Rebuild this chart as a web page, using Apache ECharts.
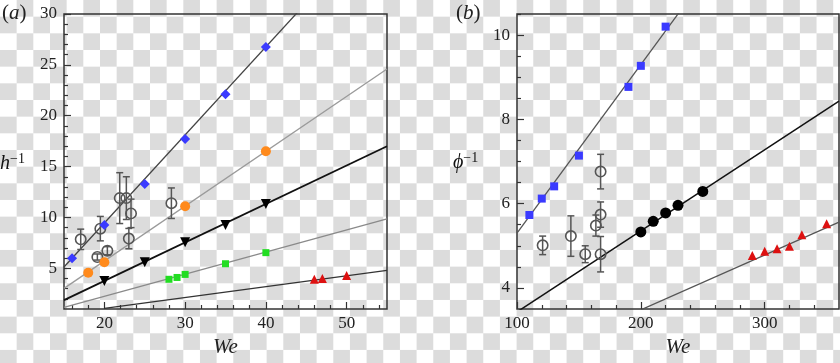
<!DOCTYPE html>
<html><head><meta charset="utf-8">
<script src="https://cdn.jsdelivr.net/npm/echarts@6/dist/echarts.min.js"></script>
<style>
html,body{margin:0;padding:0;}
body{width:840px;height:363px;background-color:#fff;background-image:conic-gradient(#dcdcdc 0 25%, #fff 0 50%, #dcdcdc 0 75%, #fff 0);background-size:33.333px 33.333px;}
#c{width:840px;height:363px;}
</style></head><body><div id="c"></div>
<script>
// ---------- Panel (a): h^-1 vs We ----------
const aXTicks = [20, 30, 40, 50];
const aXMinor = [16, 18, 22, 24, 26, 28, 32, 34, 36, 38, 42, 44, 46, 48, 52, 54];
const aYTicks = [5, 10, 15, 20, 25, 30];
const aYMinor = [2, 3, 4, 6, 7, 8, 9, 11, 12, 13, 14, 16, 17, 18, 19, 21, 22, 23, 24, 26, 27, 28, 29];

const aBlueX = [16, 20, 25, 30, 35, 40];
const aBlueY = [6.0, 9.25, 13.3, 17.7, 22.1, 26.75];
const aOrangeX = [18, 20, 30, 40];
const aOrangeY = [4.57, 5.6, 11.1, 16.5];
const aBlackX = [20, 25, 30, 35, 40];
const aBlackY = [3.75, 5.6, 7.55, 9.25, 11.33];
const aGreenX = [28, 29, 30, 35, 40];
const aGreenY = [3.92, 4.1, 4.4, 5.45, 6.54];
const aRedX = [46, 47, 50];
const aRedY = [3.92, 4.0, 4.3];
const aOpenX = [17.07, 19.13, 19.5, 20.37, 21.9, 22.72, 23.3, 23.03, 28.3];
const aOpenY = [7.85, 6.11, 8.9, 6.73, 11.9, 11.9, 10.4, 7.92, 11.4];
const aOpenErr = [1.0, 0.3, 1.2, 0.4, 2.5, 2.1, 1.4, 1.0, 1.5];

const aFitBlueX = [15, 45], aFitBlueY = [5.13, 31.1];
const aFitOrangeX = [15, 55], aFitOrangeY = [3.03, 24.6];
const aFitBlackX = [15, 55], aFitBlackY = [1.87, 17.0];
const aFitGreenX = [15, 55], aFitGreenY = [1.15, 9.85];
const aFitRedX = [20, 55], aFitRedY = [1.07, 4.8];

// ---------- Panel (b): phi^-1 vs We ----------
const bXTicks = [100, 200, 300];
const bXMinor = [120, 140, 160, 180, 220, 240, 260, 280, 320, 340];
const bYTicks = [4, 6, 8, 10];
const bYMinor = [4.5, 5, 5.5, 6.5, 7, 7.5, 8.5, 9, 9.5, 10.5];

const bBlueX = [110, 120, 130, 150, 190, 200, 220];
const bBlueY = [5.73, 6.12, 6.41, 7.14, 8.77, 9.27, 10.2];
const bBlackX = [200, 210, 220, 230, 250];
const bBlackY = [5.33, 5.58, 5.78, 5.96, 6.29];
const bRedX = [290, 300, 310, 320, 330, 350];
const bRedY = [4.77, 4.87, 4.93, 4.99, 5.26, 5.52];
const bOpenX = [120.7, 143.5, 155.1, 163.7, 167.5, 167.5, 167.5];
const bOpenY = [5.01, 5.23, 4.8, 5.48, 5.74, 6.76, 4.8];
const bOpenErr = [0.22, 0.48, 0.2, 0.25, 0.3, 0.41, 0.42];

const bFitBlueX = [100, 235], bFitBlueY = [5.3, 10.7];
const bFitBlackX = [100, 360], bFitBlackY = [3.43, 8.43];
const bFitRedX = [200, 360], bFitRedY = [3.48, 5.56];

// ---------- helpers ----------
const zip = (xs, ys) => xs.map((x, i) => [x, ys[i]]);
const zip3 = (xs, ys, es) => xs.map((x, i) => [x, ys[i], es[i]]);
const SERIF = "'Liberation Serif', 'Times New Roman', 'DejaVu Serif', serif";
const AX = '#333';
const tickFont = { fontFamily: SERIF, fontSize: 17, fontWeight: 'normal', color: '#222' };

function majorX(grid, min, max, ticks) {
  return { type: 'value', gridIndex: grid, min, max, position: 'bottom',
    name: 'We', nameLocation: 'middle', nameGap: 27,
    nameTextStyle: { fontFamily: SERIF, fontStyle: 'italic', fontSize: 21, color: '#222' },
    axisLine: { show: false, onZero: false },
    axisTick: { show: true, inside: true, length: 7, customValues: ticks, lineStyle: { color: AX, width: 1.2 } },
    axisLabel: Object.assign({ show: true, customValues: ticks, margin: 6,
      rich: { t: tickFont }, formatter: v => '{t|' + v + '}' }, tickFont),
    splitLine: { show: false } };
}
function minorX(grid, min, max, ticks) {
  return { type: 'value', gridIndex: grid, min, max, position: 'bottom',
    axisLine: { show: false, onZero: false },
    axisTick: { show: true, inside: true, length: 4, customValues: ticks, lineStyle: { color: AX, width: 1.2 } },
    axisLabel: { show: false }, splitLine: { show: false } };
}
function majorY(grid, min, max, ticks) {
  return { type: 'value', gridIndex: grid, min, max, position: 'left',
    axisLine: { show: false, onZero: false },
    axisTick: { show: true, inside: true, length: 7, customValues: ticks, lineStyle: { color: AX, width: 1.2 } },
    axisLabel: Object.assign({ show: true, customValues: ticks, margin: 7,
      rich: { t: tickFont }, formatter: v => '{t|' + v + '}' }, tickFont),
    splitLine: { show: false } };
}
function minorY(grid, min, max, ticks) {
  return { type: 'value', gridIndex: grid, min, max, position: 'left',
    axisLine: { show: false, onZero: false },
    axisTick: { show: true, inside: true, length: 4, customValues: ticks, lineStyle: { color: AX, width: 1.2 } },
    axisLabel: { show: false }, splitLine: { show: false } };
}
function fit(xi, xs, ys, color, width) {
  return { type: 'line', xAxisIndex: xi, yAxisIndex: xi, data: zip(xs, ys), symbol: 'none',
    clip: true, silent: true, z: 2, lineStyle: { color, width }, animation: false };
}
function pts(xi, xs, ys, symbol, size, color, rotate) {
  return { type: 'scatter', xAxisIndex: xi, yAxisIndex: xi, data: zip(xs, ys), symbol,
    symbolSize: size, symbolRotate: rotate || 0, z: 4, itemStyle: { color, opacity: 1 }, animation: false };
}
function errRender(params, api) {
  const x = api.value(0), y = api.value(1), e = api.value(2);
  const p = api.coord([x, y]), hi = api.coord([x, y + e]), lo = api.coord([x, y - e]);
  const cap = 3.5;
  const st = { stroke: '#555', lineWidth: 1.5, fill: null };
  return { type: 'group', children: [
    { type: 'line', shape: { x1: p[0], y1: hi[1], x2: p[0], y2: lo[1] }, style: st },
    { type: 'line', shape: { x1: p[0] - cap, y1: hi[1], x2: p[0] + cap, y2: hi[1] }, style: st },
    { type: 'line', shape: { x1: p[0] - cap, y1: lo[1], x2: p[0] + cap, y2: lo[1] }, style: st },
    { type: 'circle', shape: { cx: p[0], cy: p[1], r: 5.2 }, style: { stroke: '#555', lineWidth: 1.6, fill: 'rgba(0,0,0,0)' } }
  ] };
}
function errs(xi, xs, ys, es) {
  return { type: 'custom', xAxisIndex: xi, yAxisIndex: xi, data: zip3(xs, ys, es),
    renderItem: errRender, z: 3, animation: false, clip: true };
}

const chart = echarts.init(document.getElementById('c'), null, { renderer: 'canvas' });
const titleRich = {
  i: { fontFamily: SERIF, fontStyle: 'italic', fontWeight: 'normal', fontSize: 21, color: '#222' },
  n: { fontFamily: SERIF, fontWeight: 'normal', fontSize: 21, color: '#222' },
  h: { fontFamily: SERIF, fontStyle: 'italic', fontWeight: 'normal', fontSize: 20, lineHeight: 22, verticalAlign: 'bottom', color: '#111' },
  s: { fontFamily: SERIF, fontWeight: 'normal', fontSize: 14, lineHeight: 12, verticalAlign: 'top', color: '#111' }
};
chart.setOption({
  backgroundColor: 'transparent',
  animation: false,
  textStyle: { fontFamily: SERIF },
  title: [
    { text: '{n|(}{i|a}{n|)}', left: -3, top: -2, textStyle: { fontWeight: 'normal', rich: titleRich } },
    { text: '{n|(}{i|b}{n|)}', left: 451, top: -2, textStyle: { fontWeight: 'normal', rich: titleRich } },
    { text: '{h|h}{s|−1}', left: -5, top: 147, textStyle: { fontWeight: 'normal', rich: titleRich } },
    { text: '{h|ϕ}{s|−1}', left: 448, top: 146, textStyle: { fontWeight: 'normal', rich: titleRich } }
  ],
  grid: [
    { left: 64, top: 14, width: 323, height: 295, show: true, borderColor: AX, borderWidth: 1.5, backgroundColor: 'transparent' },
    { left: 517, top: 14, width: 322, height: 295, show: true, borderColor: AX, borderWidth: 1.5, backgroundColor: 'transparent' }
  ],
  xAxis: [
    majorX(0, 15, 55, aXTicks), minorX(0, 15, 55, aXMinor),
    majorX(1, 100, 360, bXTicks), minorX(1, 100, 360, bXMinor)
  ],
  yAxis: [
    majorY(0, 1, 30, aYTicks), minorY(0, 1, 30, aYMinor),
    majorY(1, 3.5, 10.5, bYTicks), minorY(1, 3.5, 10.5, bYMinor)
  ],
  series: [
    fit(0, aFitBlueX, aFitBlueY, '#444', 1.3),
    fit(0, aFitOrangeX, aFitOrangeY, '#9a9a9a', 1.3),
    fit(0, aFitBlackX, aFitBlackY, '#111', 1.8),
    fit(0, aFitGreenX, aFitGreenY, '#8a8a8a', 1.3),
    fit(0, aFitRedX, aFitRedY, '#333', 1.3),
    errs(0, aOpenX, aOpenY, aOpenErr),
    pts(0, aBlueX, aBlueY, 'diamond', 10, '#3a3aff'),
    pts(0, aOrangeX, aOrangeY, 'circle', 10, '#ff8a1c'),
    pts(0, aBlackX, aBlackY, 'triangle', 10, '#000', 180),
    pts(0, aGreenX, aGreenY, 'rect', 7, '#22dd22'),
    pts(0, aRedX, aRedY, 'triangle', 9, '#dd1111'),

    fit(2, bFitBlueX, bFitBlueY, '#555', 1.3),
    fit(2, bFitBlackX, bFitBlackY, '#111', 1.5),
    fit(2, bFitRedX, bFitRedY, '#555', 1.3),
    errs(2, bOpenX, bOpenY, bOpenErr),
    pts(2, bBlueX, bBlueY, 'rect', 8, '#3a3aff'),
    pts(2, bBlackX, bBlackY, 'circle', 11, '#000'),
    pts(2, bRedX, bRedY, 'triangle', 9, '#dd1111')
  ]
});
</script></body></html>
